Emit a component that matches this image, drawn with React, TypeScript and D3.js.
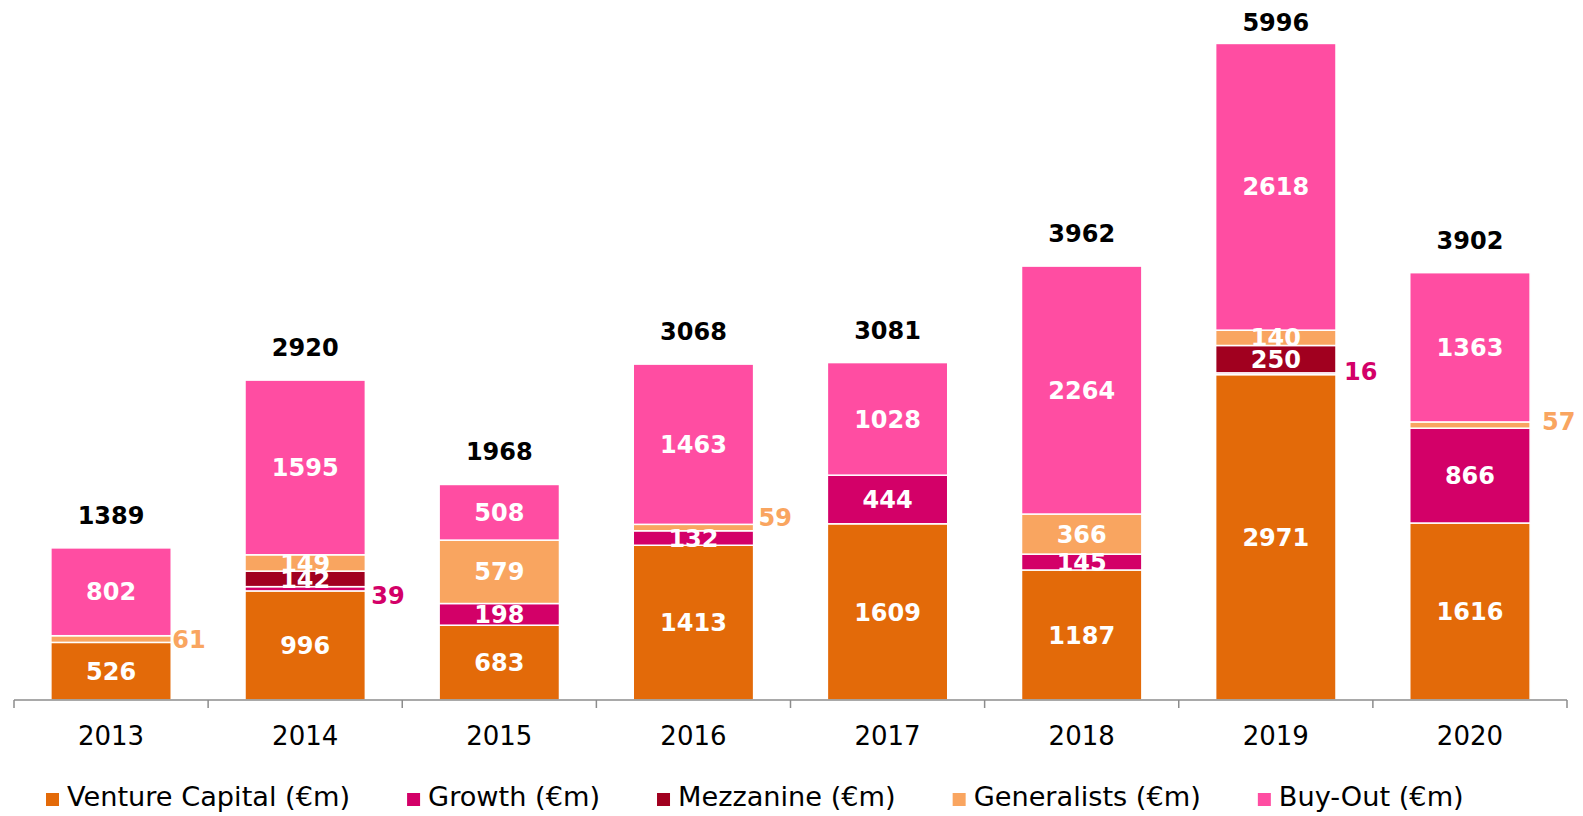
import React, { useEffect, useRef } from "react";
import * as d3 from "d3";

const years = ["2013", "2014", "2015", "2016", "2017", "2018", "2019", "2020"];
const ventureCapital = [526, 996, 683, 1413, 1609, 1187, 2971, 1616];
const growth = [0, 39, 198, 132, 444, 145, 16, 866];
const mezzanine = [0, 142, 0, 0, 0, 0, 250, 0];
const generalists = [61, 149, 579, 59, 0, 366, 140, 57];
const buyOut = [802, 1595, 508, 1463, 1028, 2264, 2618, 1363];
const totals = [1389, 2920, 1968, 3068, 3081, 3962, 5996, 3902];
const seriesNames = [
  "Venture Capital (€m)",
  "Growth (€m)",
  "Mezzanine (€m)",
  "Generalists (€m)",
  "Buy-Out (€m)",
];
const seriesColors = ["#E36A09", "#D30068", "#A1001F", "#F9A560", "#FF4DA2"];

// small manual nudges for outside labels (layout only)
const outsideNudge: Record<string, [number, number]> = {
  "0-3": [1, 0],
  "1-1": [6, 7],
  "3-3": [5, -10],
  "6-1": [8, -2],
  "7-3": [12, -4],
};

const W = 1583;
const H = 816;
const FONT = "'DejaVu Sans', Verdana, sans-serif";
const LABEL_SIZE = 24;

export default function App() {
  const ref = useRef<SVGSVGElement | null>(null);

  useEffect(() => {
    const svg = d3.select(ref.current);
    svg.selectAll("*").remove();

    const rows = years.map((y, i) => ({
      year: y,
      s0: ventureCapital[i],
      s1: growth[i],
      s2: mezzanine[i],
      s3: generalists[i],
      s4: buyOut[i],
    }));
    const keys = ["s0", "s1", "s2", "s3", "s4"];
    const stacked = d3.stack<any>().keys(keys)(rows);

    const x = d3
      .scaleBand<string>()
      .domain(years)
      .range([14, 1567])
      .paddingInner(0.38)
      .paddingOuter(0.19);
    const y = d3.scaleLinear().domain([0, 6000]).range([700, 42.9]);

    const g = svg.append("g");

    stacked.forEach((layer, si) => {
      layer.forEach((d, i) => {
        const v = d[1] - d[0];
        if (v <= 0) return;
        const yr = years[i];
        g.append("rect")
          .attr("x", x(yr)!)
          .attr("width", x.bandwidth())
          .attr("y", y(d[1]))
          .attr("height", y(d[0]) - y(d[1]))
          .attr("fill", seriesColors[si])
          .attr("stroke", "#ffffff")
          .attr("stroke-width", 1.5);
      });
    });

    // segment labels
    stacked.forEach((layer, si) => {
      layer.forEach((d, i) => {
        const v = d[1] - d[0];
        if (v <= 0) return;
        const yr = years[i];
        const cy = (y(d[0]) + y(d[1])) / 2;
        if (v < 100) {
          const n = outsideNudge[`${i}-${si}`] || [6, 0];
          g.append("text")
            .attr("x", x(yr)! + x.bandwidth() + n[0])
            .attr("y", cy + n[1])
            .attr("dy", "0.36em")
            .attr("text-anchor", "start")
            .attr("font-family", FONT)
            .attr("font-weight", "bold")
            .attr("font-size", LABEL_SIZE)
            .attr("fill", seriesColors[si])
            .text(String(v));
        } else {
          g.append("text")
            .attr("x", x(yr)! + x.bandwidth() / 2)
            .attr("y", cy)
            .attr("dy", "0.36em")
            .attr("text-anchor", "middle")
            .attr("font-family", FONT)
            .attr("font-weight", "bold")
            .attr("font-size", LABEL_SIZE)
            .attr("fill", "#ffffff")
            .text(String(v));
        }
      });
    });

    // totals
    years.forEach((yr, i) => {
      const top = y(stacked[stacked.length - 1][i][1]);
      g.append("text")
        .attr("x", x(yr)! + x.bandwidth() / 2)
        .attr("y", Math.max(31, top - 24))
        .attr("text-anchor", "middle")
        .attr("font-family", FONT)
        .attr("font-weight", "bold")
        .attr("font-size", LABEL_SIZE)
        .attr("fill", "#000000")
        .text(String(totals[i]));
    });

    // axis
    const [r0, r1] = x.range();
    g.append("line")
      .attr("x1", r0)
      .attr("x2", r1)
      .attr("y1", 700)
      .attr("y2", 700)
      .attr("stroke", "#8c8c8c")
      .attr("stroke-width", 1.5);
    const step = x.step();
    for (let k = 0; k <= years.length; k++) {
      const tx = r0 + k * step;
      g.append("line")
        .attr("x1", tx)
        .attr("x2", tx)
        .attr("y1", 700)
        .attr("y2", 708)
        .attr("stroke", "#8c8c8c")
        .attr("stroke-width", 1.5);
    }
    years.forEach((yr) => {
      g.append("text")
        .attr("x", x(yr)! + x.bandwidth() / 2)
        .attr("y", 745)
        .attr("text-anchor", "middle")
        .attr("font-family", FONT)
        .attr("font-size", 26)
        .attr("fill", "#000000")
        .text(yr);
    });

    // legend
    let lx = 46;
    seriesNames.forEach((name, si) => {
      g.append("rect")
        .attr("x", lx)
        .attr("y", 793)
        .attr("width", 13)
        .attr("height", 13)
        .attr("fill", seriesColors[si]);
      const t = g
        .append("text")
        .attr("x", lx + 21)
        .attr("y", 806)
        .attr("font-family", FONT)
        .attr("font-size", 26)
        .attr("fill", "#000000")
        .text(name);
      const node = t.node() as SVGTextElement;
      const w = node.getComputedTextLength() * 1.045;
      t.attr("textLength", w).attr("lengthAdjust", "spacingAndGlyphs");
      lx = lx + 21 + w + 57;
    });
  }, []);

  return (
    <div style={{ position: "absolute", left: 0, top: 0 }}>
      <svg ref={ref} width={W} height={H} style={{ display: "block", background: "#fff" }} />
    </div>
  );
}
